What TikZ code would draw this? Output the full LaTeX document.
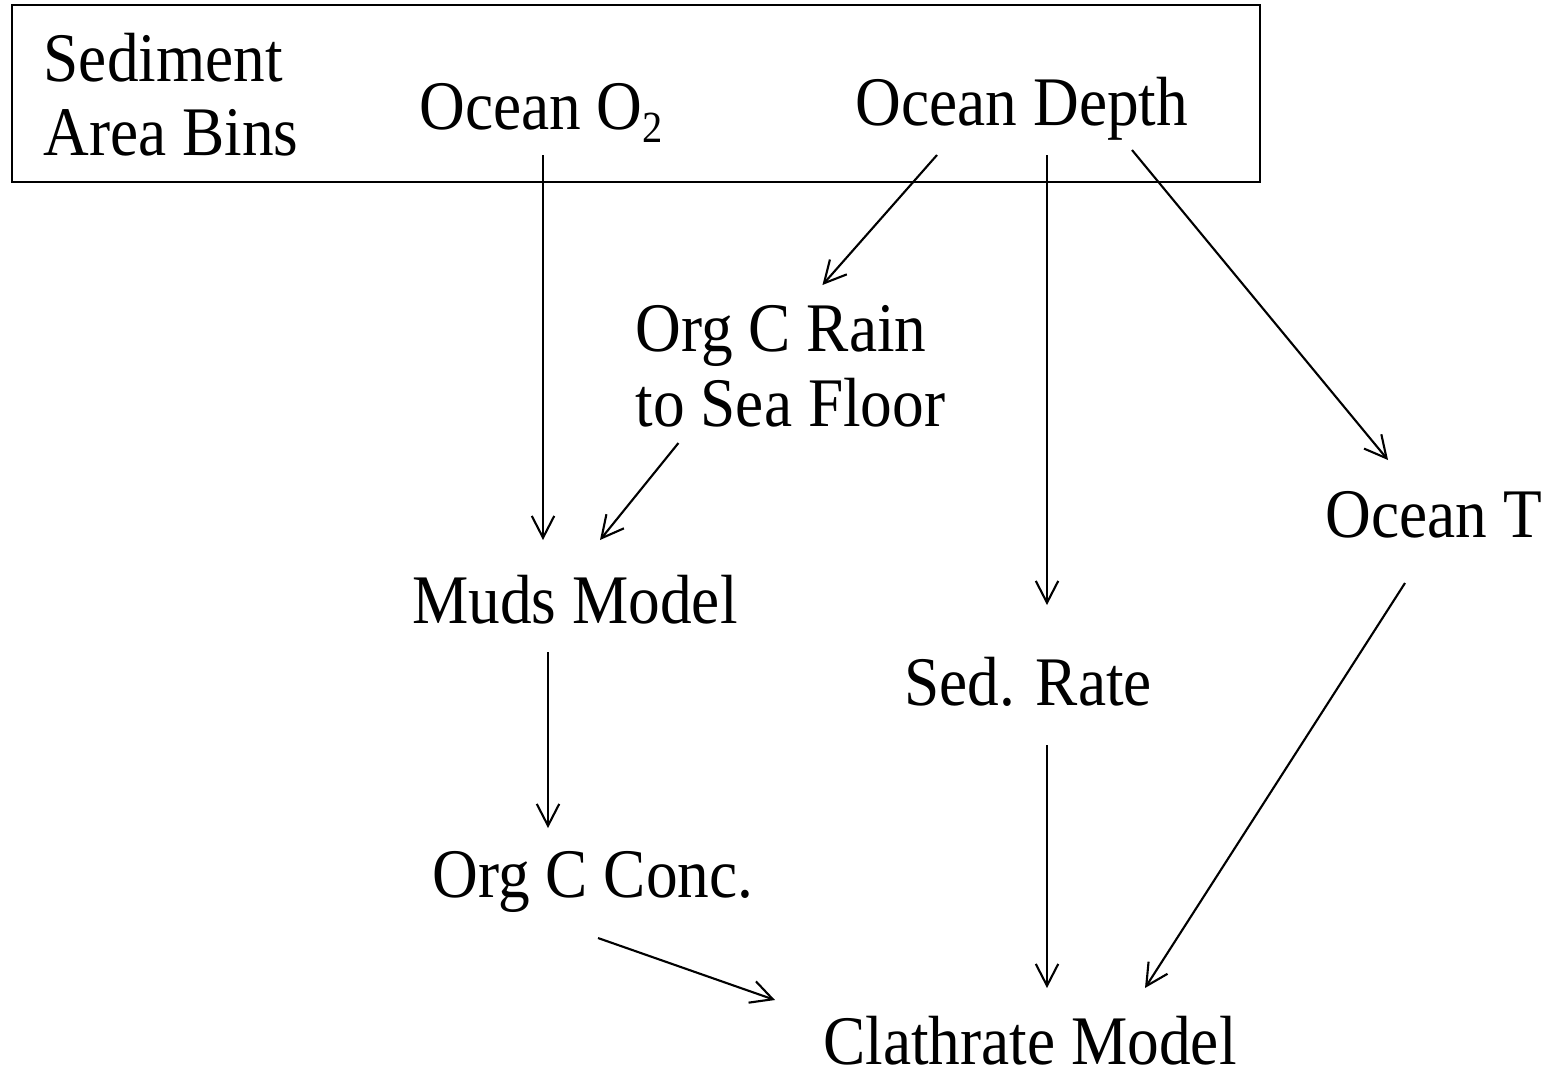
\documentclass[tikz,border=0pt]{standalone}
\usepackage{fontspec}
\setmainfont{Liberation Serif}
\usetikzlibrary{arrows.meta}

\newcommand{\lowsub}[1]{\raisebox{-3.4pt}{\fontsize{11.5}{12}\selectfont #1}}

\begin{document}
\begin{tikzpicture}[x=0.01cm, y=-0.01cm,
  every node/.style={font=\fontsize{18}{19.3}\selectfont, inner sep=0pt, yscale=1.1},
  link/.style={-{Straight Barb[length=6.2pt,width=6.4pt]}, line width=0.6pt}]
\useasboundingbox (0,0) rectangle (1552,1075);
% input box
\draw[line width=0.6pt] (12,5) rectangle (1260,182);
\node[anchor=north west, align=left] (bins) at (43,32) {Sediment\\Area Bins};
\node[anchor=base] (oxy) at (541,129) {Ocean O\lowsub{2}};
\node[anchor=base] (depth) at (1022,125) {Ocean Depth};
% derived quantities
\node[anchor=north west, align=left] (rain) at (635,305) {Org C Rain\\to Sea Floor};
\node[anchor=base] (temp) at (1434,537) {Ocean T};
\node[anchor=base] (muds) at (575,623) {Muds Model};
\node[anchor=base] (sedrate) at (1028,705) {Sed. Rate};
\node[anchor=base] (conc) at (593,897) {Org C Conc.};
\node[anchor=base, text depth=0pt] (clath) at (1030,1064) {Clathrate Model};
% links
\draw[link] ([shift={(2,26)}]oxy.base) -- ([shift={(-32,-83)}]muds.base);
\draw[link] ([shift={(-85,30)}]depth.base) -- ([shift={(32,-20)}]rain.north);
\draw[link] ([shift={(25,30)}]depth.base) -- ([shift={(19,-100)}]sedrate.base);
\draw[link] ([shift={(110,25)}]depth.base) -- ([shift={(-46,-77)}]temp.base);
\draw[link] ([shift={(-112,138)}]rain.north) -- ([shift={(25,-83)}]muds.base);
\draw[link] ([shift={(-27,29)}]muds.base) -- ([shift={(-45,-69)}]conc.base);
\draw[link] ([shift={(5,41)}]conc.base) -- ([shift={(-255,-64)}]clath.base);
\draw[link] ([shift={(19,40)}]sedrate.base) -- ([shift={(17,-76)}]clath.base);
\draw[link] ([shift={(-29,46)}]temp.base) -- ([shift={(115,-76)}]clath.base);
\end{tikzpicture}
\end{document}
